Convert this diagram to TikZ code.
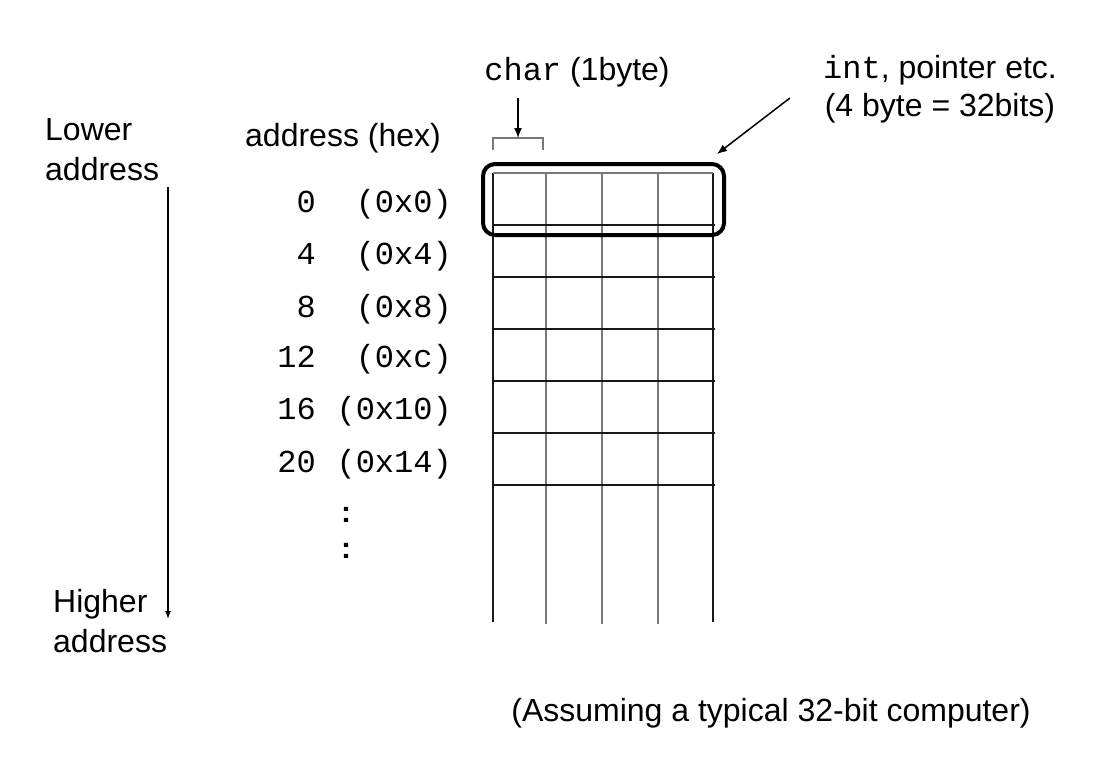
\documentclass[tikz,border=0pt]{standalone}
\usepackage{fontspec}
\setmainfont{Liberation Sans}
\setmonofont{Liberation Mono}
\usepackage{tikz}
\tikzset{>=latex}
\usetikzlibrary{arrows.meta}
\usetikzlibrary{positioning}
\usetikzlibrary{calc}
\definecolor{cellline}{RGB}{120,120,120}
\definecolor{rowline}{RGB}{25,25,25}
\tikzset{
    plain text/.style={font=\fontsize{32}{40}\selectfont, inner sep=0pt},
    mono text/.style={font=\fontsize{32}{40}\selectfont\ttfamily, inner sep=0pt},
    pointer/.style={line width=1.5pt, -{Latex[length=10pt, width=8pt]}}
}

\begin{document}
\begin{tikzpicture}[x=1pt, y=-1pt]
            \useasboundingbox (0, 0) rectangle (1115, 772);
            \foreach \x in {546, 602, 658} {
                \draw[cellline, line width=1.5pt] (\x, 173) -- (\x, 624);
            }
            \foreach \x in {493, 713} {
                \draw[rowline, line width=1.5pt] (\x, 173) -- (\x, 622);
            }
            \draw[cellline, line width=1.5pt] (493, 173) -- (713, 173);
            \foreach \y in {225, 277, ..., 485} {
                \draw[rowline, line width=1.5pt] (493, \y) -- (715, \y);
            }
            \node[draw, line width=4pt, rounded corners=12pt, minimum width=241pt, minimum height=71pt] (intbox) at (603.5, 199.5) {};
            \foreach \y/\num/\hex [count=\i] in {212/0/0x0, 264/4/0x4, 317/8/0x8, 367/12/0xc, 419/16/0x10, 472/20/0x14} {
                \node[mono text, anchor=base east] (num\i) at (316, \y) {\num};
                \node[mono text, anchor=base east] (hex\i) at (452, \y) {(\hex)};
            }
            \node[font=\fontsize{30}{32}\selectfont\bfseries, inner sep=0pt] (dots1) at (346, 515) {:};
            \node[font=\fontsize{30}{32}\selectfont\bfseries, inner sep=0pt] (dots2) at (346, 551) {:};
            \node[plain text] (hexhead) at (343, 138) {address (hex)};
            \node[plain text, anchor=base] (charlbl) at (577, 80) {\texttt{char} (1byte)};
            \draw[cellline, line width=1.5pt] (493, 150) -- (493, 138) -- (543, 138) -- (543, 150);
            \coordinate (bytemark) at (518, 138);
            \coordinate (bytetail) at (518, 98);
            \draw[pointer] (bytetail) -- (bytemark);
            \node[plain text, align=center, font=\fontsize{32}{38}\selectfont] (intlbl) at (940, 89) {\texttt{int}, pointer etc.\\(4 byte = 32bits)};
            \draw[pointer] ([xshift=-33pt, yshift=-9pt]intlbl.west) -- ([xshift=-9pt, yshift=8pt]intbox.north east);
            \node[plain text, align=left, anchor=west] (lower) at (45, 150) {Lower\\address};
            \node[plain text, align=left, anchor=west] (higher) at (53, 621) {Higher\\address};
            \coordinate (lowend) at (168, 187);
            \coordinate (highend) at (168, 619);
            \draw[line width=1.5pt, -{Latex[length=8pt, width=6pt]}] (lowend) -- (highend);
            \node[plain text] (note) at (771, 713) {(Assuming a typical 32-bit computer)};
        \end{tikzpicture}
\end{document}
